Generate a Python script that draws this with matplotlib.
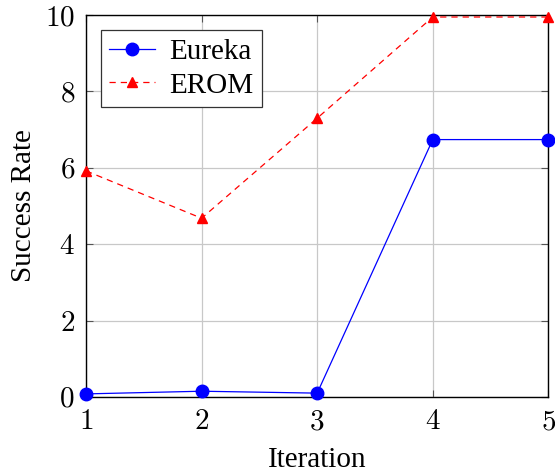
import matplotlib
matplotlib.use("Agg")
import matplotlib.pyplot as plt
from matplotlib.ticker import FuncFormatter

# data
iterations = [1, 2, 3, 4, 5]
eureka = [0.08, 0.15, 0.10, 6.74, 6.74]
erom = [5.92, 4.68, 7.30, 9.95, 9.95]

plt.rcParams['font.family'] = ['Liberation Serif', 'DejaVu Serif']
plt.rcParams['mathtext.fontset'] = 'cm'

fig = plt.figure(figsize=(5.55, 4.72), dpi=100)
ax = fig.add_axes([0.155, 0.159, 0.833, 0.809])

ax.plot(iterations, eureka, color='blue', lw=0.9, marker='o', markersize=9,
        label='Eureka', clip_on=False, zorder=3)
ax.plot(iterations, erom, color='red', lw=0.9, ls=(0, (5, 4)), marker='^',
        markersize=7.5, label='EROM', clip_on=False, zorder=3)

ax.set_xlim(1, 5)
ax.set_ylim(0, 10)
ax.set_xticks(iterations)
ax.set_yticks([0, 2, 4, 6, 8, 10])
fmt = FuncFormatter(lambda v, p: r'$%d$' % v)
ax.xaxis.set_major_formatter(fmt)
ax.yaxis.set_major_formatter(fmt)
ax.tick_params(direction='in', top=True, right=True, labelsize=21, length=5,
               width=0.8, color='#555555')
ax.tick_params(axis='x', pad=9)
ax.tick_params(axis='y', pad=8)
ax.grid(True, color='#c8c8c8', lw=0.9)
ax.set_axisbelow(True)
for s in ax.spines.values():
    s.set_linewidth(1.0)

ax.set_xlabel('Iteration', fontsize=21, labelpad=8)
ax.set_ylabel('Success Rate', fontsize=21, labelpad=6)

leg = ax.legend(loc='upper left', fontsize=21, fancybox=False, framealpha=1,
                edgecolor='#333333', borderpad=0.3, handlelength=1.55,
                labelspacing=0.25, handletextpad=0.5, borderaxespad=0.5)
leg.get_frame().set_linewidth(0.9)

fig.savefig('out.png', dpi=100)
